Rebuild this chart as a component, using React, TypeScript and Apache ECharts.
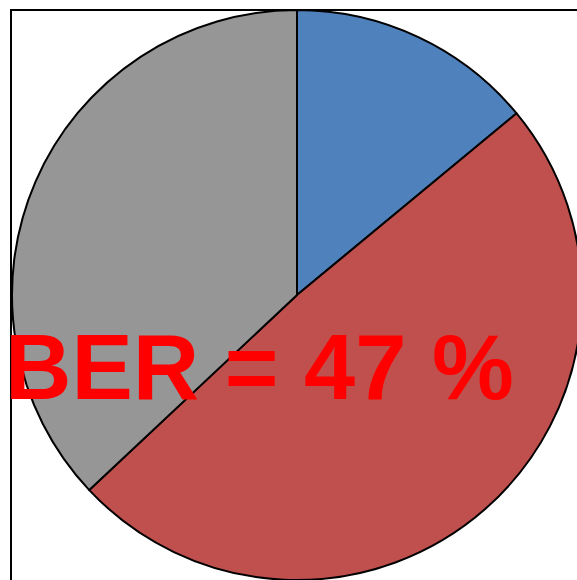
import React, { useEffect, useRef } from "react";
import * as echarts from "echarts";

const categories = ["A", "B", "C"];
const values = [14, 49, 37];
const colors = ["#4F81BD", "#C0504D", "#969696"];
const labelText = "BER = 47 %";

export default function App() {
  const ref = useRef<HTMLDivElement>(null);
  useEffect(() => {
    if (!ref.current) return;
    const chart = echarts.init(ref.current, null, { renderer: "svg" });
    chart.setOption({
      animation: false,
      backgroundColor: "#ffffff",
      graphic: [
        {
          type: "rect",
          z: 10,
          shape: { x: 11, y: 10, width: 700, height: 700 },
          style: { fill: "none", stroke: "#000", lineWidth: 2 },
          silent: true,
        },
        {
          type: "text",
          z: 20,
          x: 5,
          y: 367,
          style: {
            text: labelText,
            fill: "#FF0000",
            font: "bold 92px 'Liberation Sans', Arial, sans-serif",
            verticalAlign: "middle",
            align: "left",
          },
          silent: true,
        },
      ],
      series: [
        {
          type: "pie",
          center: [297, 295],
          radius: 285,
          startAngle: 90,
          clockwise: true,
          silent: true,
          label: { show: false },
          labelLine: { show: false },
          itemStyle: { borderColor: "#000", borderWidth: 2 },
          data: categories.map((c, i) => ({
            name: c,
            value: values[i],
            itemStyle: { color: colors[i] },
          })),
        },
      ],
    });
    return () => chart.dispose();
  }, []);
  return (
    <div
      ref={ref}
      style={{ position: "fixed", left: 0, top: 0, width: 577, height: 580 }}
    />
  );
}
